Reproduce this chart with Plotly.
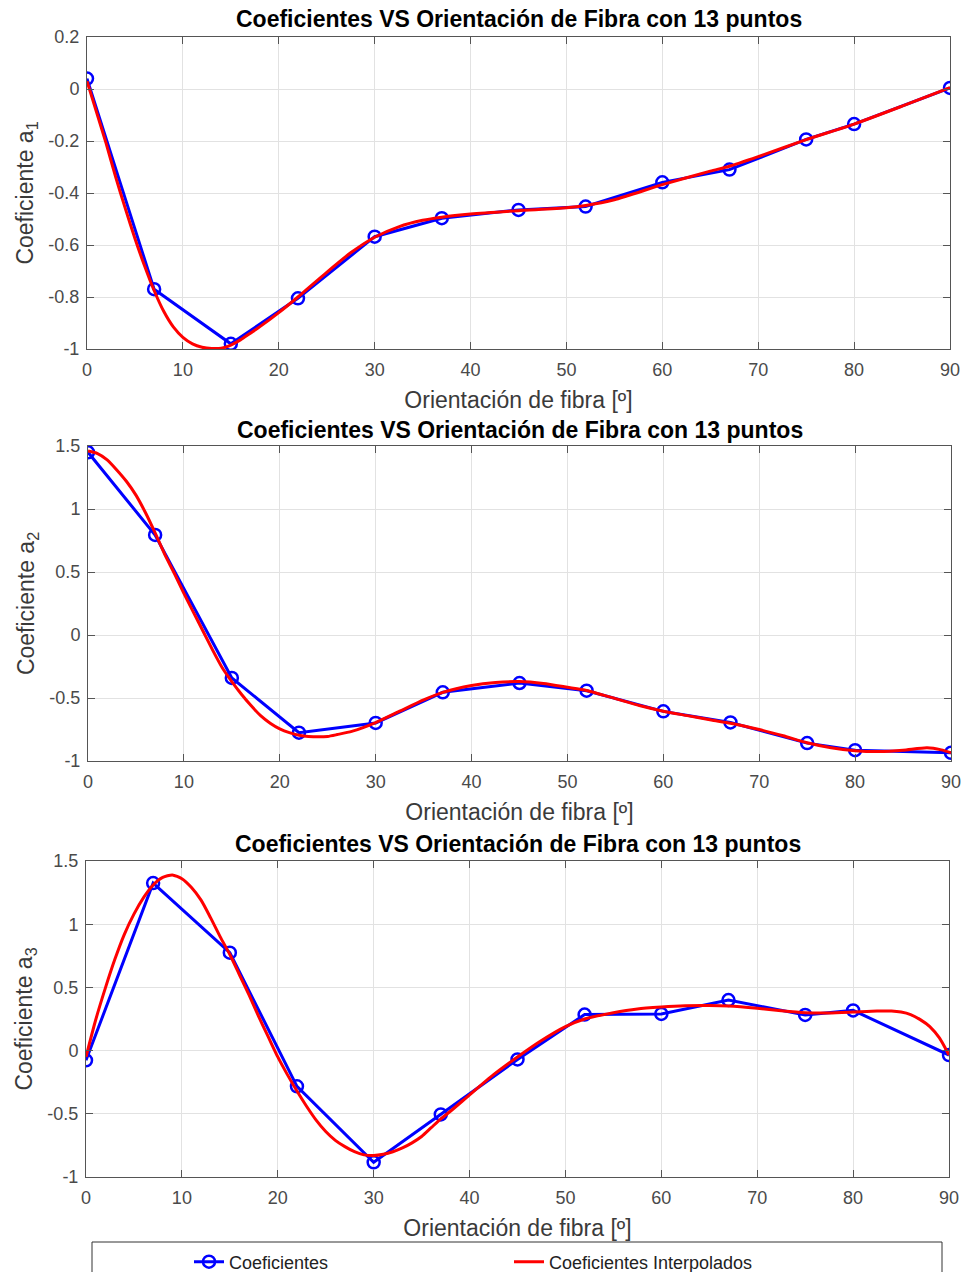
import plotly.graph_objects as go

# ---------------- data ----------------
angles = [0, 7, 15, 22, 30, 37, 45, 52, 60, 67, 75, 80, 90]
coef_a1 = [0.04, -0.77, -0.98, -0.805, -0.568, -0.497, -0.465, -0.452, -0.359, -0.31, -0.194, -0.135, 0.004]
coef_a2 = [1.45, 0.794, -0.341, -0.775, -0.698, -0.455, -0.381, -0.442, -0.606, -0.694, -0.858, -0.914, -0.935]
coef_a3 = [-0.077, 1.325, 0.775, -0.283, -0.884, -0.505, -0.07, 0.285, 0.29, 0.40, 0.282, 0.318, -0.035]

interp_x_a1 = [0, 1, 2, 3, 4, 5, 6, 7, 8, 9, 10, 11, 12, 13, 14, 15, 16, 17, 18, 20, 22, 25, 27.5,
               30, 32.5, 35, 37, 40, 45, 50, 52, 55, 60, 65, 67, 70, 75, 80, 85, 90]
interp_a1 = [0.03, -0.09, -0.21, -0.34, -0.46, -0.575, -0.68, -0.775, -0.855, -0.915, -0.955, -0.98,
             -0.993, -0.998, -0.997, -0.985, -0.965, -0.94, -0.915, -0.86, -0.80, -0.705, -0.63,
             -0.57, -0.53, -0.505, -0.493, -0.481, -0.468, -0.457, -0.448, -0.426, -0.368, -0.316,
             -0.297, -0.26, -0.195, -0.135, -0.066, 0.005]

interp_x_a2 = [0, 1, 2, 3, 4, 5, 6, 7, 8, 9, 10, 11, 12, 13, 14, 15, 16, 17, 18, 19, 20, 21, 22, 23,
               24, 25, 26, 27.5, 30, 32.5, 35, 37, 40, 42.5, 45, 47.5, 50, 52, 55, 57.5, 60, 62.5,
               65, 67, 70, 72.5, 75, 77.5, 80, 82.5, 85, 87.5, 89, 90]
interp_a2 = [1.46, 1.44, 1.39, 1.31, 1.22, 1.11, 0.97, 0.81, 0.64, 0.49, 0.33, 0.18, 0.03, -0.12,
             -0.26, -0.37, -0.47, -0.56, -0.64, -0.70, -0.745, -0.775, -0.795, -0.805, -0.808,
             -0.805, -0.79, -0.765, -0.695, -0.605, -0.515, -0.455, -0.40, -0.376, -0.37, -0.385,
             -0.415, -0.44, -0.505, -0.56, -0.605, -0.64, -0.675, -0.70, -0.75, -0.80, -0.855,
             -0.895, -0.918, -0.925, -0.915, -0.895, -0.912, -0.935]

interp_x_a3 = [0, 1, 2, 3, 4, 5, 6, 7, 8, 9, 10, 11, 12, 13, 14, 15, 16, 17, 18, 19, 20, 21, 22, 23,
               24, 25, 26, 27, 28, 29, 30, 31, 32, 33, 34, 35, 36, 37, 38, 40, 42.5, 45, 47.5, 50,
               52, 55, 57.5, 60, 62.5, 65, 67, 70, 72.5, 75, 77.5, 80, 82.5, 84, 85, 86, 87, 88,
               89, 90]
interp_a3 = [-0.05, 0.24, 0.49, 0.72, 0.92, 1.08, 1.21, 1.31, 1.37, 1.39, 1.36, 1.29, 1.19, 1.05,
             0.90, 0.76, 0.60, 0.44, 0.27, 0.11, -0.05, -0.19, -0.32, -0.44, -0.55, -0.64, -0.71,
             -0.76, -0.80, -0.825, -0.83, -0.82, -0.80, -0.77, -0.73, -0.68, -0.61, -0.54, -0.48,
             -0.35, -0.19, -0.05, 0.08, 0.19, 0.25, 0.30, 0.33, 0.345, 0.355, 0.357, 0.353, 0.335,
             0.315, 0.30, 0.298, 0.305, 0.313, 0.313, 0.305, 0.285, 0.245, 0.19, 0.10, -0.035]

x_tick_vals = [0, 10, 20, 30, 40, 50, 60, 70, 80, 90]
x_tick_text = ["0", "10", "20", "30", "40", "50", "60", "70", "80", "90"]
a1_tick_vals = [-1, -0.8, -0.6, -0.4, -0.2, 0, 0.2]
a1_tick_text = ["-1", "-0.8", "-0.6", "-0.4", "-0.2", "0", "0.2"]
a23_tick_vals = [-1, -0.5, 0, 0.5, 1, 1.5]
a23_tick_text = ["-1", "-0.5", "0", "0.5", "1", "1.5"]

panel_title = "Coeficientes VS Orientación de Fibra con 13 puntos"
x_label = "Orientación de fibra [º]"
y_labels = ["Coeficiente a<sub>1</sub>", "Coeficiente a<sub>2</sub>", "Coeficiente a<sub>3</sub>"]
legend_names = ["Coeficientes", "Coeficientes Interpolados"]

# ---------------- layout helpers ----------------
W, H = 963, 1272
panels = [(87, 950, 37, 349), (88, 951, 446, 761), (86, 949, 861, 1177)]
title_y_px = [19, 430, 844]
y_ranges = [[-1, 0.2], [-1, 1.5], [-1, 1.5]]
y_ticks = [(a1_tick_vals, a1_tick_text), (a23_tick_vals, a23_tick_text), (a23_tick_vals, a23_tick_text)]

FONT = "Liberation Sans, Arial, Helvetica, sans-serif"
AX_COLOR = "#3a3a3a"
TICK_COLOR = "#4a4a4a"
GRID = "#e2e2e2"

fig = go.Figure()

series = [
    (coef_a1, interp_x_a1, interp_a1),
    (coef_a2, interp_x_a2, interp_a2),
    (coef_a3, interp_x_a3, interp_a3),
]

for i, (coef, ix, iy) in enumerate(series):
    xa = "x" if i == 0 else f"x{i+1}"
    ya = "y" if i == 0 else f"y{i+1}"
    fig.add_trace(go.Scatter(
        x=angles, y=coef, mode="lines+markers", name=legend_names[0],
        line=dict(color="#0000ff", width=3),
        marker=dict(symbol="circle-open", size=12, color="#0000ff", line=dict(width=2.5, color="#0000ff")),
        xaxis=xa, yaxis=ya, showlegend=(i == 2), legendrank=1,
    ))
    fig.add_trace(go.Scatter(
        x=ix, y=iy, mode="lines", name=legend_names[1],
        line=dict(color="#ff0000", width=3, shape="spline", smoothing=0.6),
        xaxis=xa, yaxis=ya, showlegend=(i == 2), legendrank=2,
    ))

layout = dict(
    width=W, height=H,
    margin=dict(l=0, r=0, t=0, b=0, autoexpand=False),
    paper_bgcolor="white", plot_bgcolor="white",
    font=dict(family=FONT, color=AX_COLOR),
    annotations=[],
    shapes=[],
)

for i, (x0, x1, y0, y1) in enumerate(panels):
    xk = "xaxis" if i == 0 else f"xaxis{i+1}"
    yk = "yaxis" if i == 0 else f"yaxis{i+1}"
    anchor_x = "y" if i == 0 else f"y{i+1}"
    anchor_y = "x" if i == 0 else f"x{i+1}"
    common = dict(
        showline=True, linecolor="#555555", linewidth=1, mirror="ticks",
        ticks="inside", ticklen=7, tickcolor="#555555", tickwidth=1,
        showgrid=True, gridcolor=GRID, gridwidth=1, zeroline=False,
        tickfont=dict(family=FONT, size=18, color=TICK_COLOR),
        automargin=False,
    )
    layout[xk] = dict(
        domain=[x0 / W, x1 / W], anchor=anchor_x, range=[0, 90],
        tickmode="array", tickvals=x_tick_vals, ticktext=x_tick_text,
        ticklabelstandoff=4,
        title=dict(text=x_label, font=dict(family=FONT, size=23, color=AX_COLOR), standoff=13),
        **common,
    )
    yt_vals, yt_text = y_ticks[i]
    layout[yk] = dict(
        domain=[1 - y1 / H, 1 - y0 / H], anchor=anchor_y, range=y_ranges[i],
        tickmode="array", tickvals=yt_vals, ticktext=yt_text,
        ticklabelstandoff=3,
        title=dict(text=y_labels[i], font=dict(family=FONT, size=23, color=AX_COLOR), standoff=8),
        **common,
    )
    layout["annotations"].append(dict(
        text=panel_title, xref="paper", yref="paper",
        x=((x0 + x1) / 2) / W, y=1 - title_y_px[i] / H,
        xanchor="center", yanchor="middle", showarrow=False,
        font=dict(family=FONT, size=23, color="#000000", weight="bold"),
    ))

# legend frame
layout["shapes"].append(dict(
    type="rect", xref="paper", yref="paper",
    x0=92 / W, x1=942 / W, y0=1 - 1290 / H, y1=1 - 1242 / H,
    line=dict(color="#333333", width=1), fillcolor="rgba(0,0,0,0)",
))

layout["legend"] = dict(
    orientation="h", x=189 / W, xanchor="left", y=1 - 1262 / H, yanchor="middle",
    entrywidth=275, entrywidthmode="pixels",
    font=dict(family=FONT, size=18, color="#222222"),
    bgcolor="rgba(0,0,0,0)", borderwidth=0, traceorder="normal",
)

fig.update_layout(**layout)
fig.write_html("out.html")
